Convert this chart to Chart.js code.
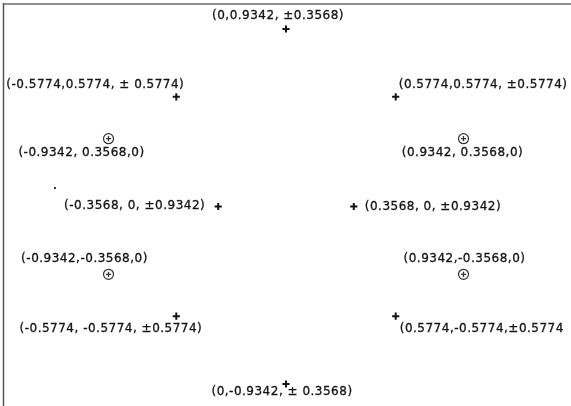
<!DOCTYPE html>
<html>
<head>
<meta charset="utf-8">
<script src="https://cdn.jsdelivr.net/npm/chart.js@4.4.1/dist/chart.umd.min.js"></script>
<style>
  html, body { margin: 0; padding: 0; background: #fff; }
  canvas { display: block; }
</style>
</head>
<body>
<canvas id="chart" width="571" height="406"></canvas>
<script>
// ------------------ Data ------------------
// vertices marked with "+"
const plusX = [0, -0.5774, 0.5774, -0.3568, 0.3568, -0.5774, 0.5774, 0];
const plusY = [0.9342, 0.5774, 0.5774, 0, 0, -0.5774, -0.5774, -0.9342];
const plusLabels = [
    '(0,0.9342, ±0.3568)',
    '(-0.5774,0.5774, ± 0.5774)',
    '(0.5774,0.5774, ±0.5774)',
    '(-0.3568, 0, ±0.9342)',
    '(0.3568, 0, ±0.9342)',
    '(-0.5774, -0.5774, ±0.5774)',
    '(0.5774,-0.5774,±0.5774',
    '(0,-0.9342, ± 0.3568)'
];

// vertices marked with a circled "+"
const circleX = [-0.9342, 0.9342, -0.9342, 0.9342];
const circleY = [0.3568, 0.3568, -0.3568, -0.3568];
const circleLabels = [
    '(-0.9342, 0.3568,0)',
    '(0.9342, 0.3568,0)',
    '(-0.9342,-0.3568,0)',
    '(0.9342,-0.3568,0)'
];

// stray speck on the sheet
const speckX = [-1.216];
const speckY = [0.097];

// ------------------ Label placement (px from the mark) ------------------
const plusLabelPos = [
    [-8, -13, 'center'],
    [8, -12, 'right'],
    [3, -12, 'left'],
    [-13, -1, 'right'],
    [11, 0, 'left'],
    [26, 13, 'right'],
    [4, 13, 'left'],
    [-4, 8, 'center']
];
const circleLabelPos = [
    [-27, 14, 'center'],
    [-1, 14, 'center'],
    [-24, -15, 'center'],
    [1, -15, 'center']
];

function toPoints(xs, ys) {
    return xs.map(function(x, i) { return { x: x, y: ys[i] }; });
}

const ink = '#141414';

// frame on the top and left edge of the sheet
const framePlugin = {
    id: 'frame',
    beforeDatasetsDraw: function(chart) {
        const ctx = chart.ctx;
        const a = chart.chartArea;
        ctx.save();
        ctx.lineWidth = 1.5;
        ctx.strokeStyle = '#6a6a6a';
        ctx.beginPath();
        ctx.moveTo(a.left, a.top + 1);
        ctx.lineTo(a.right, a.top + 1);
        ctx.stroke();
        ctx.strokeStyle = '#555';
        ctx.beginPath();
        ctx.moveTo(a.left + 0.5, a.top);
        ctx.lineTo(a.left + 0.5, a.bottom);
        ctx.stroke();
        ctx.restore();
    }
};

const labelPlugin = {
    id: 'pointLabels',
    afterDatasetsDraw: function(chart) {
        const ctx = chart.ctx;
        ctx.save();
        ctx.fillStyle = ink;
        ctx.strokeStyle = ink;
        ctx.lineWidth = 0.3;
        ctx.font = '12px "DejaVu Sans"';
        ctx.letterSpacing = '0.5px';
        ctx.textBaseline = 'middle';
        chart.data.datasets.forEach(function(ds, di) {
            if (!ds.labels) return;
            const meta = chart.getDatasetMeta(di);
            meta.data.forEach(function(pt, i) {
                const pos = ds.labelPos[i];
                ctx.textAlign = pos[2];
                ctx.fillText(ds.labels[i], pt.x + pos[0], pt.y + pos[1]);
                ctx.strokeText(ds.labels[i], pt.x + pos[0], pt.y + pos[1]);
            });
        });
        ctx.restore();
    }
};

new Chart(document.getElementById('chart').getContext('2d'), {
    type: 'scatter',
    data: {
        datasets: [
            {
                data: toPoints(plusX, plusY),
                labels: plusLabels,
                labelPos: plusLabelPos,
                pointStyle: 'cross',
                pointRadius: 3.6,
                borderColor: ink,
                borderWidth: 2
            },
            {
                data: toPoints(circleX, circleY),
                labels: circleLabels,
                labelPos: circleLabelPos,
                pointStyle: 'circle',
                pointRadius: 5,
                backgroundColor: 'rgba(0,0,0,0)',
                borderColor: '#333',
                borderWidth: 1.2
            },
            {
                data: toPoints(circleX, circleY),
                pointStyle: 'cross',
                pointRadius: 2.6,
                borderColor: '#333',
                borderWidth: 1.3
            },
            {
                data: toPoints(speckX, speckY),
                pointStyle: 'circle',
                pointRadius: 1.1,
                backgroundColor: ink,
                borderWidth: 0
            }
        ]
    },
    options: {
        responsive: false,
        animation: false,
        layout: {
            autoPadding: false,
            padding: { left: 3, top: 3, right: 0, bottom: 0 }
        },
        plugins: {
            legend: { display: false },
            tooltip: { enabled: false }
        },
        scales: {
            x: { display: false, min: -1.4895, max: 1.5 },
            y: { display: false, min: -1.05, max: 1.071 }
        }
    },
    plugins: [framePlugin, labelPlugin]
});
</script>
</body>
</html>
